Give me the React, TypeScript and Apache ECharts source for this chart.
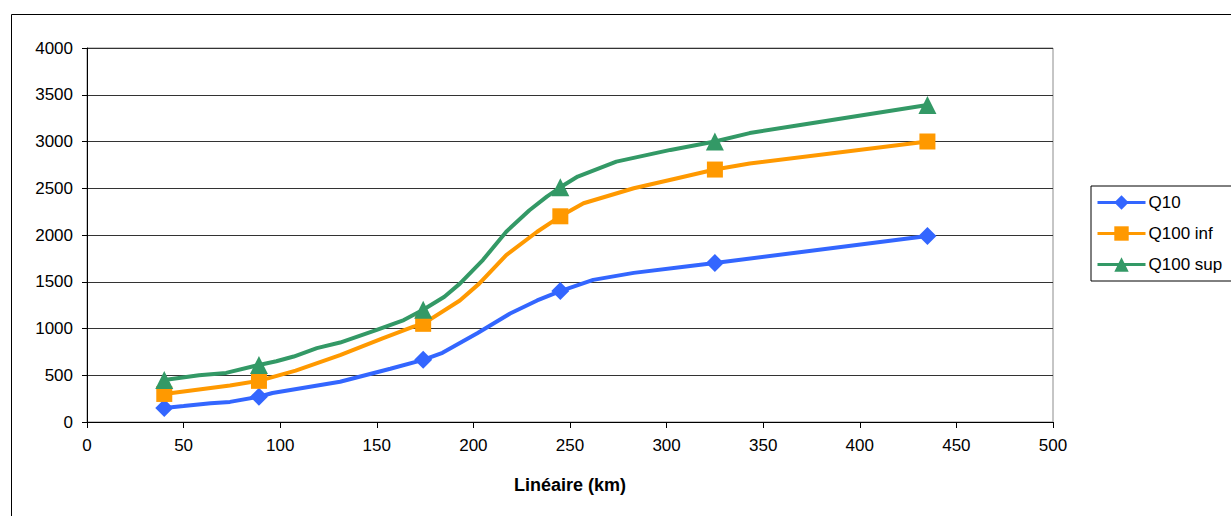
import React, { useEffect, useRef } from "react";
import * as echarts from "echarts";

const xTicks = [0, 50, 100, 150, 200, 250, 300, 350, 400, 450, 500];
const yTicks = [0, 500, 1000, 1500, 2000, 2500, 3000, 3500, 4000];
const markerKm = [40, 89, 174, 245, 325, 435];

const q10: [number, number][] = [
  [40, 150], [50, 170], [64, 200], [74, 215], [89, 270], [96, 310], [131, 430],
  [157, 570], [174, 665], [184, 740], [202, 950], [219, 1160], [233, 1300],
  [245, 1400], [262, 1520], [283, 1595], [309, 1660], [325, 1700], [435, 1990],
];
const q100inf: [number, number][] = [
  [40, 300], [55, 340], [74, 390], [89, 440], [108, 550], [131, 715], [153, 895],
  [169, 1020], [174, 1050], [193, 1300], [203, 1480], [217, 1785], [233, 2035],
  [245, 2200], [257, 2340], [283, 2500], [305, 2605], [325, 2700], [343, 2765],
  [435, 3000],
];
const q100sup: [number, number][] = [
  [40, 450], [58, 500], [72, 525], [89, 610], [98, 650], [107, 700], [119, 790],
  [131, 850], [150, 985], [164, 1090], [174, 1200], [185, 1340], [193, 1480],
  [205, 1735], [217, 2035], [229, 2265], [238, 2410], [245, 2510], [254, 2625],
  [274, 2785], [302, 2910], [325, 3000], [343, 3090], [370, 3180], [435, 3390],
];

const FONT = "Liberation Sans, Arial, sans-serif";

function toData(pts: [number, number][]) {
  return pts.map(([x, y]) =>
    markerKm.includes(x) ? { value: [x, y] } : { value: [x, y], symbol: "none" }
  );
}

export default function App() {
  const ref = useRef<HTMLDivElement>(null);
  useEffect(() => {
    if (!ref.current) return;
    const chart = echarts.init(ref.current, undefined, { renderer: "svg" });
    const mk = (name: string, pts: [number, number][], color: string, symbol: string, size: number) => ({
      name,
      type: "line",
      data: toData(pts),
      symbol,
      symbolSize: size,
      showAllSymbol: true,
      lineStyle: { color, width: 4 },
      itemStyle: { color },
      z: 3,
    });
    chart.setOption({
      animation: false,
      backgroundColor: "#fff",
      textStyle: { fontFamily: FONT },
      grid: {
        left: 87, top: 48, right: 178, bottom: 94,
        show: true, borderColor: "#8c8c8c", borderWidth: 1,
      },
      xAxis: {
        type: "value",
        min: xTicks[0],
        max: xTicks[xTicks.length - 1],
        interval: 50,
        name: "Linéaire (km)",
        nameLocation: "middle",
        nameGap: 54,
        nameTextStyle: { fontSize: 18, fontWeight: "bold", color: "#000", fontFamily: FONT },
        axisLine: { lineStyle: { color: "#000", width: 1 } },
        axisTick: { show: true, length: 6, inside: false, lineStyle: { color: "#000" } },
        axisLabel: { fontSize: 17, color: "#000", margin: 15, fontFamily: FONT },
        splitLine: { show: false },
      },
      yAxis: {
        type: "value",
        min: yTicks[0],
        max: yTicks[yTicks.length - 1],
        interval: 500,
        axisLine: { show: true, lineStyle: { color: "#000", width: 1 } },
        axisTick: { show: true, length: 5, inside: false, lineStyle: { color: "#000" } },
        axisLabel: {
          fontSize: 17, color: "#000", margin: 14, fontFamily: FONT,
          formatter: (v: number) => String(v),
        },
        splitLine: { show: true, lineStyle: { color: "#333", width: 1 } },
      },
      legend: {
        orient: "vertical",
        left: 1091,
        top: 186,
        backgroundColor: "#fff",
        borderColor: "#000",
        borderWidth: 1,
        padding: [8, 30, 8, 5],
        itemGap: 14,
        itemWidth: 48,
        itemHeight: 18,
        lineStyle: { width: 3 },
        textStyle: { fontSize: 17, color: "#000", fontFamily: FONT, padding: [0, 0, 0, -2] },
        data: ["Q10", "Q100 inf", "Q100 sup"],
      },
      graphic: [
        {
          type: "rect",
          shape: { x: 11.5, y: 14.5, width: 1300, height: 600 },
          style: { fill: "none", stroke: "#000", lineWidth: 1 },
          silent: true,
          z: -10,
        },
      ],
      series: [
        mk("Q10", q10, "#3366FF", "diamond", 18),
        mk("Q100 inf", q100inf, "#FF9900", "rect", 16),
        mk("Q100 sup", q100sup, "#339966", "triangle", 18),
      ],
    });
    return () => chart.dispose();
  }, []);
  return <div ref={ref} style={{ width: 1231, height: 516, position: "absolute", left: 0, top: 0 }} />;
}
